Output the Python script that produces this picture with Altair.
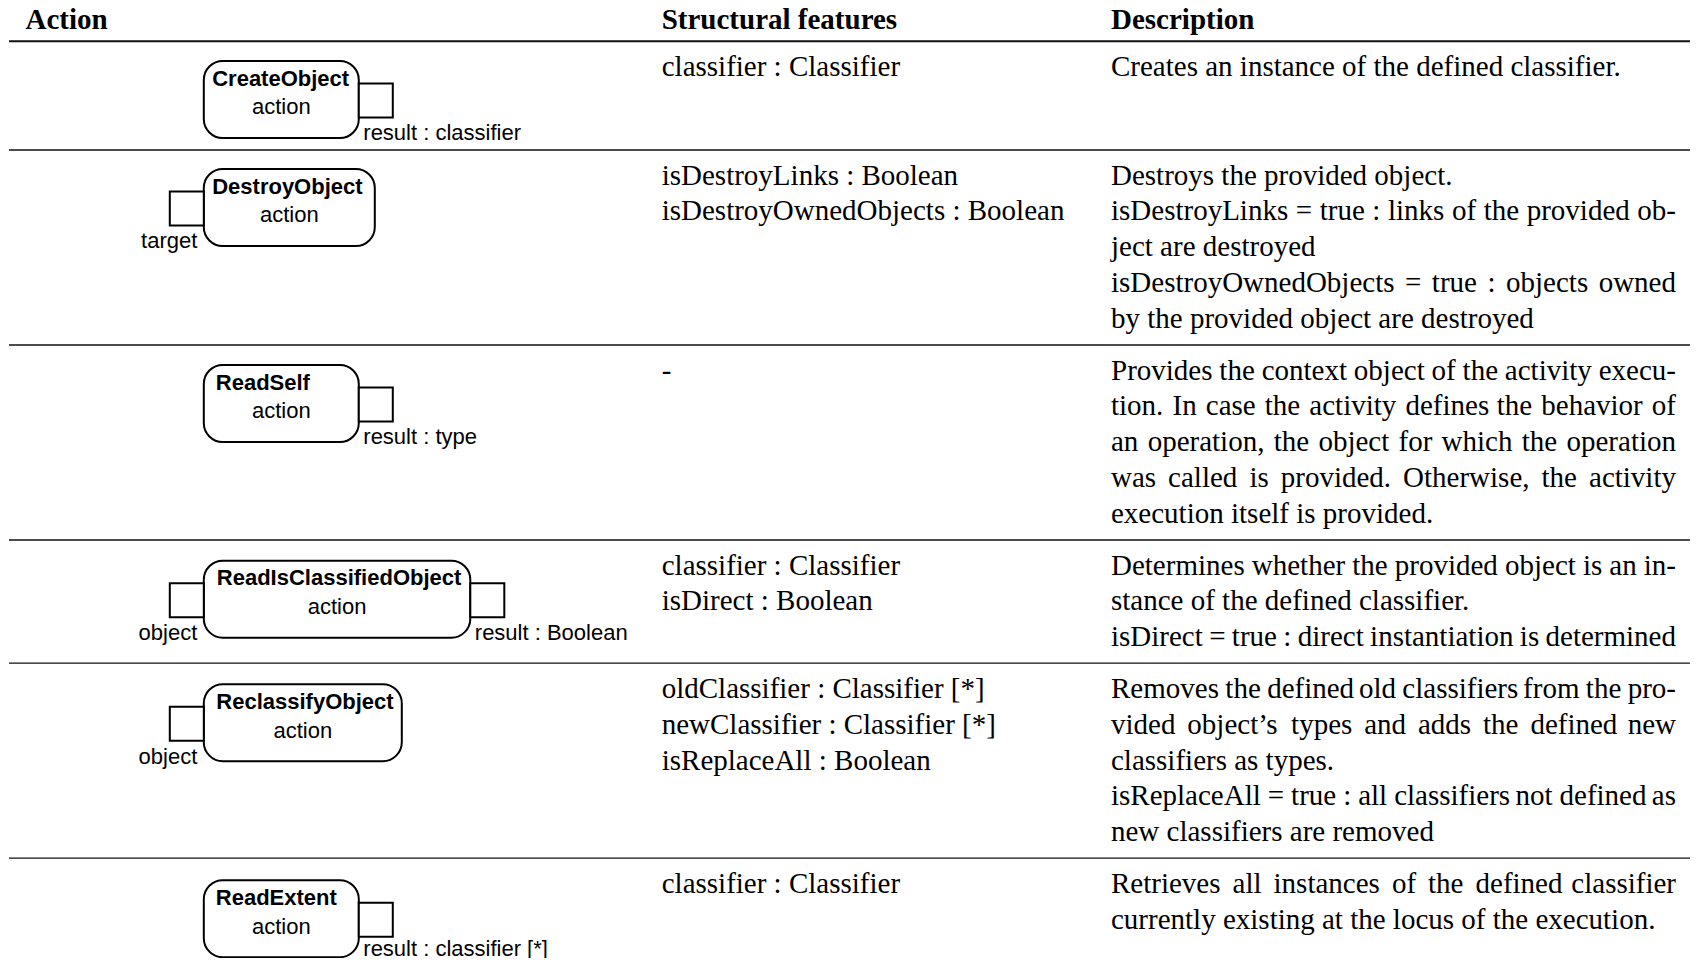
import altair as alt
import pandas as pd

# ---------------- data ----------------
headers = ["Action", "Structural features", "Description"]
action_names = ["CreateObject", "DestroyObject", "ReadSelf",
                "ReadIsClassifiedObject", "ReclassifyObject", "ReadExtent"]
action_kind = "action"
input_pin_labels = ["", "target", "", "object", "object", ""]
output_pin_labels = ["result : classifier", "", "result : type",
                     "result : Boolean", "", "result : classifier [*]"]
feature_lines = [
    ["classifier : Classifier"],
    ["isDestroyLinks : Boolean", "isDestroyOwnedObjects : Boolean"],
    ["-"],
    ["classifier : Classifier", "isDirect : Boolean"],
    ["oldClassifier : Classifier [*]", "newClassifier : Classifier [*]",
     "isReplaceAll : Boolean"],
    ["classifier : Classifier"],
]
description_paragraphs = [
    [["Creates an instance of the defined classifier."]],
    [["Destroys the provided object."],
     ["isDestroyLinks = true : links of the provided ob-", "ject are destroyed"],
     ["isDestroyOwnedObjects = true : objects owned",
      "by the provided object are destroyed"]],
    [["Provides the context object of the activity execu-",
      "tion. In case the activity defines the behavior of",
      "an operation, the object for which the operation",
      "was called is provided. Otherwise, the activity",
      "execution itself is provided."]],
    [["Determines whether the provided object is an in-",
      "stance of the defined classifier."],
     ["isDirect = true : direct instantiation is determined"]],
    [["Removes the defined old classifiers from the pro-",
      "vided object\u2019s types and adds the defined new",
      "classifiers as types."],
     ["isReplaceAll = true : all classifiers not defined as",
      "new classifiers are removed"]],
    [["Retrieves all instances of the defined classifier",
      "currently existing at the locus of the execution."]],
]

# ---------------- layout / style ----------------
W, H = 1682, 950
ORIGIN = 8
COL_X = [25.5, 661.7, 1111.0]
DESC_RIGHT = 1676.0
RULE_X = (9.0, 1698.0)
HEADER_BASELINE = 29.3
HEADER_RULE_Y = 41.3
LINE_H = 35.9
ROW_PAD = 15.5
FIRST_BASELINE = 34.5
DIAGRAM_ROW_MIN = 108.7
BOX_LEFT = 203.8
BOX_WIDTHS = [155.0, 171.0, 155.0, 266.5, 198.0, 155.0]
TITLE_DX = [8.4, 8.4, 12.0, 13.0, 12.5, 12.0]
BOX_TOP_OFF = [19.7, 19.0, 20.0, 20.7, 21.0, 22.0]
BOX_H = 77.0
BOX_R = 19
PIN = 34.0
PIN_TOP_OFF = 22.6
TITLE_DY = 24.7
KIND_DY = 53.4
LABEL_DY = 79.3
SERIF = "Liberation Serif"
SANS = "Liberation Sans"
SERIF_SIZE = 29
SANS_SIZE = 22

# Times-Roman advance widths (per 1000 em), used to justify description lines
_TIMES = {' ': 250, '-': 333, '.': 250, ',': 250, ':': 278, '=': 564, '*': 500,
          '[': 333, ']': 333, '\u2019': 333,
          'A': 722, 'B': 667, 'C': 667, 'D': 722, 'E': 611, 'F': 556, 'G': 722,
          'H': 722, 'I': 333, 'J': 389, 'K': 722, 'L': 611, 'M': 889, 'N': 722,
          'O': 722, 'P': 556, 'Q': 722, 'R': 667, 'S': 556, 'T': 611, 'U': 722,
          'V': 722, 'W': 944, 'X': 722, 'Y': 722, 'Z': 611,
          'a': 444, 'b': 500, 'c': 444, 'd': 500, 'e': 444, 'f': 333, 'g': 500,
          'h': 500, 'i': 278, 'j': 278, 'k': 500, 'l': 278, 'm': 778, 'n': 500,
          'o': 500, 'p': 500, 'q': 500, 'r': 333, 's': 389, 't': 278, 'u': 500,
          'v': 500, 'w': 722, 'x': 500, 'y': 500, 'z': 444}


def word_width(word):
    w = sum(_TIMES.get(ch, 500) for ch in word) - 55 * word.count("fi")
    return w * SERIF_SIZE / 1000.0


# row separators computed from the number of text lines
n_rows = len(action_names)
seps = [HEADER_RULE_Y]
for i in range(n_rows):
    n_lines = max(len(feature_lines[i]),
                  sum(len(p) for p in description_paragraphs[i]))
    seps.append(seps[-1] + max(n_lines * LINE_H + ROW_PAD, DIAGRAM_ROW_MIN))

# ---------------- tables ----------------
rules_df = pd.DataFrame(
    [{"x": RULE_X[0], "x2": RULE_X[1], "y": HEADER_RULE_Y, "w": 2.0}] +
    [{"x": RULE_X[0], "x2": RULE_X[1], "y": s, "w": 1.3} for s in seps[1:-1]]
)

header_df = pd.DataFrame([{"x": COL_X[j], "y": HEADER_BASELINE, "t": h}
                          for j, h in enumerate(headers)])

avail = DESC_RIGHT - COL_X[2]
left_rows, right_rows = [], []
for i in range(n_rows):
    base = seps[i] + FIRST_BASELINE
    for k, line in enumerate(feature_lines[i]):
        left_rows.append({"x": COL_X[1], "y": base + k * LINE_H, "t": line})
    k = 0
    for para in description_paragraphs[i]:
        for li, line in enumerate(para):
            y = base + k * LINE_H
            natural = word_width(line)
            justify = (li < len(para) - 1) or natural > avail
            if not justify:
                left_rows.append({"x": COL_X[2], "y": y, "t": line})
            else:
                words = line.split()
                widths = [word_width(w) for w in words]
                gap = (avail - sum(widths)) / (len(words) - 1)
                x = COL_X[2]
                for wi, (wd, ww) in enumerate(zip(words, widths)):
                    if wi == len(words) - 1:
                        right_rows.append({"x": DESC_RIGHT, "y": y, "t": wd})
                    else:
                        left_rows.append({"x": x, "y": y, "t": wd})
                    x += ww + gap
            k += 1
body_left_df = pd.DataFrame(left_rows)
body_right_df = pd.DataFrame(right_rows)

box_rows, pin_rows, title_rows, kind_rows, outl_rows, inl_rows = [], [], [], [], [], []
for i in range(n_rows):
    top = seps[i] + BOX_TOP_OFF[i]
    w = BOX_WIDTHS[i]
    box_rows.append({"x": BOX_LEFT, "x2": BOX_LEFT + w, "y": top, "y2": top + BOX_H})
    title_rows.append({"x": BOX_LEFT + TITLE_DX[i], "y": top + TITLE_DY, "t": action_names[i]})
    kind_rows.append({"x": BOX_LEFT + w / 2, "y": top + KIND_DY, "t": action_kind})
    py = top + PIN_TOP_OFF
    if input_pin_labels[i]:
        pin_rows.append({"x": BOX_LEFT - PIN, "x2": BOX_LEFT, "y": py, "y2": py + PIN})
        inl_rows.append({"x": BOX_LEFT - 6.5, "y": top + LABEL_DY, "t": input_pin_labels[i]})
    if output_pin_labels[i]:
        pin_rows.append({"x": BOX_LEFT + w, "x2": BOX_LEFT + w + PIN, "y": py, "y2": py + PIN})
        outl_rows.append({"x": BOX_LEFT + w + 4.5, "y": min(top + LABEL_DY, 956.0),
                          "t": output_pin_labels[i]})

XS = alt.Scale(domain=[ORIGIN, ORIGIN + W], nice=False, zero=False)
YS = alt.Scale(domain=[ORIGIN, ORIGIN + H], nice=False, zero=False, reverse=True)
X = alt.X("x:Q", scale=XS, axis=None)
Y = alt.Y("y:Q", scale=YS, axis=None)

rules = alt.Chart(rules_df).mark_rule(color="#111").encode(
    x=X, x2="x2:Q", y=Y, strokeWidth=alt.StrokeWidth("w:Q", scale=None, legend=None))
boxes = alt.Chart(pd.DataFrame(box_rows)).mark_rect(
    fill="white", stroke="black", strokeWidth=2, cornerRadius=BOX_R).encode(
    x=X, x2="x2:Q", y=Y, y2="y2:Q")
pins = alt.Chart(pd.DataFrame(pin_rows)).mark_rect(
    fill="white", stroke="black", strokeWidth=2).encode(x=X, x2="x2:Q", y=Y, y2="y2:Q")


def text_layer(df, font, size, weight="normal", align="left"):
    return alt.Chart(df).mark_text(
        font=font, fontSize=size, fontWeight=weight, align=align,
        baseline="alphabetic", color="black").encode(x=X, y=Y, text="t:N")


layers = [
    rules, boxes, pins,
    text_layer(header_df, SERIF, SERIF_SIZE, "bold"),
    text_layer(body_left_df, SERIF, SERIF_SIZE),
    text_layer(body_right_df, SERIF, SERIF_SIZE, align="right"),
    text_layer(pd.DataFrame(title_rows), SANS, SANS_SIZE, "bold"),
    text_layer(pd.DataFrame(kind_rows), SANS, SANS_SIZE, align="center"),
    text_layer(pd.DataFrame(outl_rows), SANS, SANS_SIZE),
    text_layer(pd.DataFrame(inl_rows), SANS, SANS_SIZE, align="right"),
]

chart = alt.layer(*layers).properties(
    width=W, height=H, padding=0, autosize="none", background="white"
).configure_view(stroke=None)

chart.save("out.html", embed_options={"renderer": "svg", "actions": False})
